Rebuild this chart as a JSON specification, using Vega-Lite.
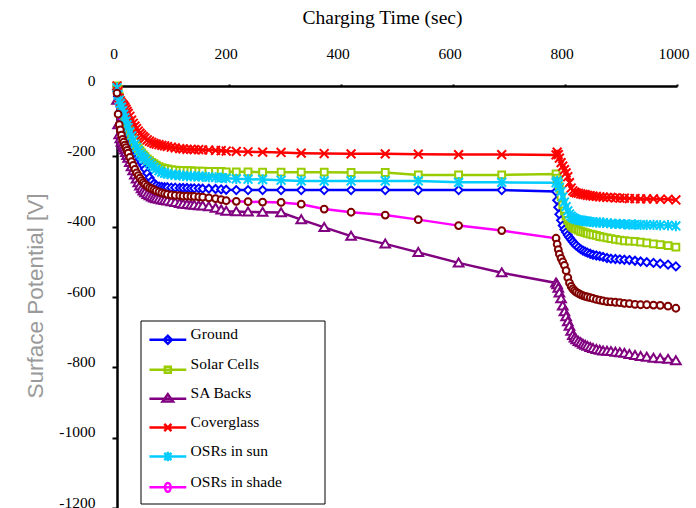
{
  "$schema": "https://vega.github.io/schema/vega-lite/v6.json",
  "width": 560,
  "height": 422,
  "autosize": {"type": "none"},
  "padding": {"left": 117, "top": 86, "right": 19, "bottom": 0},
  "background": "white",
  "config": {"view": {"stroke": null}, "font": "Liberation Serif"},
  "data": {"values": [
    {"t":0,"Ground":-10,"Solar Cells":0,"SA Backs":-40,"Coverglass":0,"OSRs in sun":-5,"OSRs in shade":-20},
    {"t":2,"Ground":-30,"Solar Cells":-10,"SA Backs":-110,"Coverglass":-15,"OSRs in sun":-25,"OSRs in shade":-80},
    {"t":4,"Ground":-45,"Solar Cells":-30,"SA Backs":-138,"Coverglass":-35,"OSRs in sun":-40,"OSRs in shade":-110},
    {"t":6,"Ground":-57,"Solar Cells":-45,"SA Backs":-150,"Coverglass":-42,"OSRs in sun":-50,"OSRs in shade":-125},
    {"t":8,"Ground":-68,"Solar Cells":-55,"SA Backs":-160,"Coverglass":-48,"OSRs in sun":-60,"OSRs in shade":-140},
    {"t":10,"Ground":-79,"Solar Cells":-65,"SA Backs":-168,"Coverglass":-52,"OSRs in sun":-70,"OSRs in shade":-152},
    {"t":12,"Ground":-90,"Solar Cells":-75,"SA Backs":-175,"Coverglass":-56,"OSRs in sun":-80,"OSRs in shade":-160},
    {"t":14,"Ground":-100,"Solar Cells":-85,"SA Backs":-182,"Coverglass":-60,"OSRs in sun":-90,"OSRs in shade":-168},
    {"t":16,"Ground":-110,"Solar Cells":-95,"SA Backs":-189,"Coverglass":-66,"OSRs in sun":-100,"OSRs in shade":-175},
    {"t":18,"Ground":-120,"Solar Cells":-104,"SA Backs":-197,"Coverglass":-72,"OSRs in sun":-110,"OSRs in shade":-183},
    {"t":20,"Ground":-129,"Solar Cells":-113,"SA Backs":-205,"Coverglass":-78,"OSRs in sun":-118,"OSRs in shade":-191},
    {"t":23,"Ground":-142,"Solar Cells":-126,"SA Backs":-217,"Coverglass":-86,"OSRs in sun":-130,"OSRs in shade":-203},
    {"t":26,"Ground":-155,"Solar Cells":-138,"SA Backs":-229,"Coverglass":-97,"OSRs in sun":-142,"OSRs in shade":-215},
    {"t":29,"Ground":-167,"Solar Cells":-150,"SA Backs":-241,"Coverglass":-106,"OSRs in sun":-154,"OSRs in shade":-226},
    {"t":32,"Ground":-178,"Solar Cells":-160,"SA Backs":-253,"Coverglass":-114,"OSRs in sun":-165,"OSRs in shade":-237},
    {"t":35,"Ground":-189,"Solar Cells":-170,"SA Backs":-264,"Coverglass":-121,"OSRs in sun":-175,"OSRs in shade":-247},
    {"t":38,"Ground":-199,"Solar Cells":-177,"SA Backs":-275,"Coverglass":-128,"OSRs in sun":-184,"OSRs in shade":-255},
    {"t":41,"Ground":-209,"Solar Cells":-184,"SA Backs":-284,"Coverglass":-134,"OSRs in sun":-192,"OSRs in shade":-262},
    {"t":44,"Ground":-218,"Solar Cells":-190,"SA Backs":-292,"Coverglass":-139,"OSRs in sun":-198,"OSRs in shade":-269},
    {"t":47,"Ground":-227,"Solar Cells":-196,"SA Backs":-298,"Coverglass":-144,"OSRs in sun":-203,"OSRs in shade":-275},
    {"t":50,"Ground":-236,"Solar Cells":-201,"SA Backs":-303,"Coverglass":-148,"OSRs in sun":-208,"OSRs in shade":-280},
    {"t":54,"Ground":-248,"Solar Cells":-207,"SA Backs":-308,"Coverglass":-153,"OSRs in sun":-214,"OSRs in shade":-285},
    {"t":58,"Ground":-260,"Solar Cells":-212,"SA Backs":-312,"Coverglass":-157,"OSRs in sun":-220,"OSRs in shade":-289},
    {"t":62,"Ground":-270,"Solar Cells":-217,"SA Backs":-315,"Coverglass":-160,"OSRs in sun":-226,"OSRs in shade":-292},
    {"t":66,"Ground":-278,"Solar Cells":-221,"SA Backs":-318,"Coverglass":-163,"OSRs in sun":-231,"OSRs in shade":-295},
    {"t":70,"Ground":-283,"Solar Cells":-225,"SA Backs":-320,"Coverglass":-165,"OSRs in sun":-236,"OSRs in shade":-298},
    {"t":75,"Ground":-286,"Solar Cells":-229,"SA Backs":-322,"Coverglass":-167,"OSRs in sun":-241,"OSRs in shade":-301},
    {"t":80,"Ground":-287,"Solar Cells":-232,"SA Backs":-324,"Coverglass":-169,"OSRs in sun":-245,"OSRs in shade":-304},
    {"t":85,"Ground":-288,"Solar Cells":-234,"SA Backs":-325,"Coverglass":-170,"OSRs in sun":-248,"OSRs in shade":-306},
    {"t":90,"Ground":-288,"Solar Cells":-236,"SA Backs":-327,"Coverglass":-172,"OSRs in sun":-250,"OSRs in shade":-308},
    {"t":97,"Ground":-289,"Solar Cells":-238,"SA Backs":-329,"Coverglass":-174,"OSRs in sun":-252,"OSRs in shade":-310},
    {"t":104,"Ground":-289,"Solar Cells":-239,"SA Backs":-331,"Coverglass":-176,"OSRs in sun":-253,"OSRs in shade":-311},
    {"t":112,"Ground":-290,"Solar Cells":-240,"SA Backs":-334,"Coverglass":-178,"OSRs in sun":-254,"OSRs in shade":-312},
    {"t":118,"Ground":-290,"Solar Cells":-240,"SA Backs":-336,"Coverglass":-179,"OSRs in sun":-255,"OSRs in shade":-313},
    {"t":125,"Ground":-290,"Solar Cells":-241,"SA Backs":-337,"Coverglass":-180,"OSRs in sun":-256,"OSRs in shade":-313},
    {"t":132,"Ground":-291,"Solar Cells":-241,"SA Backs":-338,"Coverglass":-180,"OSRs in sun":-256,"OSRs in shade":-314},
    {"t":138,"Ground":-291,"Solar Cells":-242,"SA Backs":-339,"Coverglass":-181,"OSRs in sun":-257,"OSRs in shade":-314},
    {"t":146,"Ground":-291,"Solar Cells":-242,"SA Backs":-340,"Coverglass":-181,"OSRs in sun":-257,"OSRs in shade":-315},
    {"t":153,"Ground":-292,"Solar Cells":-242,"SA Backs":-341,"Coverglass":-182,"OSRs in sun":-258,"OSRs in shade":-316},
    {"t":164,"Ground":-292,"Solar Cells":-243,"SA Backs":-343,"Coverglass":-182,"OSRs in sun":-259,"OSRs in shade":-318},
    {"t":176,"Ground":-293,"Solar Cells":-243,"SA Backs":-347,"Coverglass":-183,"OSRs in sun":-260,"OSRs in shade":-320},
    {"t":186,"Ground":-294,"Solar Cells":-243,"SA Backs":-352,"Coverglass":-184,"OSRs in sun":-261,"OSRs in shade":-323},
    {"t":195,"Ground":-295,"Solar Cells":-244,"SA Backs":-356,"Coverglass":-185,"OSRs in sun":-262,"OSRs in shade":-326},
    {"t":213,"Ground":-296,"Solar Cells":-244,"SA Backs":-357,"Coverglass":-186,"OSRs in sun":-264,"OSRs in shade":-328},
    {"t":234,"Ground":-296,"Solar Cells":-244,"SA Backs":-358,"Coverglass":-187,"OSRs in sun":-265,"OSRs in shade":-329},
    {"t":260,"Ground":-296,"Solar Cells":-245,"SA Backs":-359,"Coverglass":-188,"OSRs in sun":-266,"OSRs in shade":-330},
    {"t":293,"Ground":-296,"Solar Cells":-245,"SA Backs":-360,"Coverglass":-189,"OSRs in sun":-268,"OSRs in shade":-331},
    {"t":329,"Ground":-296,"Solar Cells":-245,"SA Backs":-380,"Coverglass":-191,"OSRs in sun":-270,"OSRs in shade":-336},
    {"t":370,"Ground":-296,"Solar Cells":-245,"SA Backs":-402,"Coverglass":-192,"OSRs in sun":-270,"OSRs in shade":-350},
    {"t":418,"Ground":-296,"Solar Cells":-246,"SA Backs":-427,"Coverglass":-193,"OSRs in sun":-270,"OSRs in shade":-359},
    {"t":479,"Ground":-296,"Solar Cells":-246,"SA Backs":-449,"Coverglass":-193,"OSRs in sun":-270,"OSRs in shade":-367},
    {"t":538,"Ground":-296,"Solar Cells":-253,"SA Backs":-473,"Coverglass":-194,"OSRs in sun":-270,"OSRs in shade":-380},
    {"t":610,"Ground":-296,"Solar Cells":-253,"SA Backs":-503,"Coverglass":-195,"OSRs in sun":-274,"OSRs in shade":-397},
    {"t":687,"Ground":-296,"Solar Cells":-253,"SA Backs":-531,"Coverglass":-195,"OSRs in sun":-274,"OSRs in shade":-411},
    {"t":784,"Ground":-300,"Solar Cells":-250,"SA Backs":-560,"Coverglass":-196,"OSRs in sun":-275,"OSRs in shade":-433},
    {"t":786,"Ground":-325,"Solar Cells":-262,"SA Backs":-565,"Coverglass":-188,"OSRs in sun":-270,"OSRs in shade":-450},
    {"t":788,"Ground":-345,"Solar Cells":-270,"SA Backs":-575,"Coverglass":-195,"OSRs in sun":-278,"OSRs in shade":-465},
    {"t":790,"Ground":-365,"Solar Cells":-290,"SA Backs":-588,"Coverglass":-205,"OSRs in sun":-288,"OSRs in shade":-478},
    {"t":793,"Ground":-382,"Solar Cells":-315,"SA Backs":-605,"Coverglass":-218,"OSRs in sun":-300,"OSRs in shade":-490},
    {"t":796,"Ground":-397,"Solar Cells":-338,"SA Backs":-625,"Coverglass":-228,"OSRs in sun":-315,"OSRs in shade":-500},
    {"t":799,"Ground":-408,"Solar Cells":-355,"SA Backs":-642,"Coverglass":-238,"OSRs in sun":-330,"OSRs in shade":-510},
    {"t":802,"Ground":-416,"Solar Cells":-370,"SA Backs":-656,"Coverglass":-247,"OSRs in sun":-343,"OSRs in shade":-525},
    {"t":805,"Ground":-424,"Solar Cells":-382,"SA Backs":-670,"Coverglass":-258,"OSRs in sun":-355,"OSRs in shade":-545},
    {"t":808,"Ground":-431,"Solar Cells":-392,"SA Backs":-683,"Coverglass":-275,"OSRs in sun":-364,"OSRs in shade":-560},
    {"t":811,"Ground":-437,"Solar Cells":-398,"SA Backs":-697,"Coverglass":-290,"OSRs in sun":-370,"OSRs in shade":-570},
    {"t":814,"Ground":-443,"Solar Cells":-402,"SA Backs":-709,"Coverglass":-298,"OSRs in sun":-374,"OSRs in shade":-577},
    {"t":817,"Ground":-449,"Solar Cells":-405,"SA Backs":-716,"Coverglass":-302,"OSRs in sun":-377,"OSRs in shade":-582},
    {"t":820,"Ground":-454,"Solar Cells":-407,"SA Backs":-721,"Coverglass":-304,"OSRs in sun":-379,"OSRs in shade":-586},
    {"t":824,"Ground":-459,"Solar Cells":-410,"SA Backs":-726,"Coverglass":-305,"OSRs in sun":-381,"OSRs in shade":-590},
    {"t":828,"Ground":-464,"Solar Cells":-413,"SA Backs":-730,"Coverglass":-307,"OSRs in sun":-382,"OSRs in shade":-593},
    {"t":832,"Ground":-468,"Solar Cells":-415,"SA Backs":-734,"Coverglass":-308,"OSRs in sun":-383,"OSRs in shade":-596},
    {"t":836,"Ground":-471,"Solar Cells":-417,"SA Backs":-737,"Coverglass":-309,"OSRs in sun":-384,"OSRs in shade":-598},
    {"t":840,"Ground":-474,"Solar Cells":-419,"SA Backs":-740,"Coverglass":-311,"OSRs in sun":-385,"OSRs in shade":-600},
    {"t":845,"Ground":-477,"Solar Cells":-421,"SA Backs":-743,"Coverglass":-312,"OSRs in sun":-386,"OSRs in shade":-602},
    {"t":850,"Ground":-480,"Solar Cells":-423,"SA Backs":-746,"Coverglass":-313,"OSRs in sun":-387,"OSRs in shade":-604},
    {"t":856,"Ground":-482,"Solar Cells":-425,"SA Backs":-749,"Coverglass":-314,"OSRs in sun":-388,"OSRs in shade":-607},
    {"t":862,"Ground":-484,"Solar Cells":-428,"SA Backs":-751,"Coverglass":-315,"OSRs in sun":-388,"OSRs in shade":-609},
    {"t":868,"Ground":-486,"Solar Cells":-430,"SA Backs":-753,"Coverglass":-316,"OSRs in sun":-389,"OSRs in shade":-611},
    {"t":875,"Ground":-489,"Solar Cells":-432,"SA Backs":-754,"Coverglass":-317,"OSRs in sun":-390,"OSRs in shade":-613},
    {"t":882,"Ground":-491,"Solar Cells":-434,"SA Backs":-755,"Coverglass":-317,"OSRs in sun":-391,"OSRs in shade":-614},
    {"t":890,"Ground":-492,"Solar Cells":-436,"SA Backs":-757,"Coverglass":-318,"OSRs in sun":-392,"OSRs in shade":-615},
    {"t":898,"Ground":-493,"Solar Cells":-438,"SA Backs":-758,"Coverglass":-319,"OSRs in sun":-392,"OSRs in shade":-616},
    {"t":906,"Ground":-494,"Solar Cells":-440,"SA Backs":-760,"Coverglass":-319,"OSRs in sun":-393,"OSRs in shade":-618},
    {"t":915,"Ground":-495,"Solar Cells":-441,"SA Backs":-763,"Coverglass":-320,"OSRs in sun":-394,"OSRs in shade":-619},
    {"t":925,"Ground":-497,"Solar Cells":-442,"SA Backs":-766,"Coverglass":-320,"OSRs in sun":-394,"OSRs in shade":-621},
    {"t":935,"Ground":-499,"Solar Cells":-444,"SA Backs":-769,"Coverglass":-321,"OSRs in sun":-395,"OSRs in shade":-622},
    {"t":946,"Ground":-501,"Solar Cells":-446,"SA Backs":-771,"Coverglass":-321,"OSRs in sun":-395,"OSRs in shade":-622},
    {"t":958,"Ground":-503,"Solar Cells":-449,"SA Backs":-774,"Coverglass":-321,"OSRs in sun":-395,"OSRs in shade":-623},
    {"t":970,"Ground":-505,"Solar Cells":-451,"SA Backs":-775,"Coverglass":-322,"OSRs in sun":-396,"OSRs in shade":-624},
    {"t":984,"Ground":-508,"Solar Cells":-454,"SA Backs":-777,"Coverglass":-322,"OSRs in sun":-396,"OSRs in shade":-626},
    {"t":998,"Ground":-513,"Solar Cells":-458,"SA Backs":-781,"Coverglass":-324,"OSRs in sun":-398,"OSRs in shade":-632}
  ]},
  "transform": [{"fold": ["Ground", "Solar Cells", "SA Backs", "Coverglass", "OSRs in sun", "OSRs in shade"], "as": ["series", "v"]}],
  "encoding": {
    "x": {"field": "t", "type": "quantitative", "scale": {"domain": [0, 1000], "nice": false},
      "axis": {"orient": "top", "values": [0, 200, 400, 600, 800, 1000], "title": "Charging Time (sec)",
        "labelExpr": "'' + datum.value",
        "titleFont": "Liberation Serif", "titleFontSize": 19.5, "titleFontWeight": "normal", "titleColor": "black",
        "titleX": 265, "titleY": -63, "titleBaseline": "alphabetic", "titleAlign": "center",
        "labelFont": "Liberation Serif", "labelFontSize": 15.5, "labelColor": "black", "labelBaseline": "alphabetic",
        "labelPadding": 25.5, "labelOffset": -3.5, "labelFlush": false, "labelOverlap": false,
        "tickSize": 2, "tickWidth": 2, "tickColor": "black", "domainColor": "black", "domainWidth": 2.5, "grid": false,
        "encode": {"ticks": {"update": {"y": {"value": 8}}}}}},
    "y": {"field": "v", "type": "quantitative", "scale": {"domain": [-1200, 0], "nice": false},
      "axis": {"orient": "left", "values": [0, -200, -400, -600, -800, -1000, -1200], "title": "Surface Potential [V]",
        "labelExpr": "'' + datum.value",
        "titleFont": "Liberation Sans", "titleFontSize": 22.5, "titleFontWeight": "normal", "titleColor": "#9a9a9a",
        "titleX": -82, "titleY": 209.5, "titleAngle": 270, "titleBaseline": "middle", "titleAlign": "center",
        "labelFont": "Liberation Serif", "labelFontSize": 15.5, "labelColor": "black",
        "labelPadding": 17, "labelOffset": -6, "labelFlush": false, "labelOverlap": false,
        "tickSize": 5, "tickWidth": 2, "tickColor": "black", "domainColor": "black", "domainWidth": 2.5, "grid": false,
        "encode": {"ticks": {"update": {"x": {"value": 6}}}}}}
  },
  "layer": [
    {
      "mark": {"type": "line", "strokeWidth": 2.5},
      "encoding": {
        "stroke": {"field": "series", "type": "nominal",
          "scale": {"range": ["#ff0000", "#0000ff", "#ff00ff", "#00ccff", "#800080", "#99cc00"]},
          "legend": null}
      }
    },
    {
      "transform": [{"filter": "datum.series === 'Ground'"}],
      "mark": {"type": "point", "shape": "M0,-1L1,0L0,1L-1,0Z", "size": 64, "stroke": "#0000ff", "fill": "white", "strokeWidth": 2, "opacity": 1}
    },
    {
      "transform": [{"filter": "datum.series === 'Solar Cells'"}],
      "mark": {"type": "point", "shape": "M-0.85,-0.85L0.85,-0.85L0.85,0.85L-0.85,0.85Z", "size": 64, "stroke": "#99cc00", "fill": "white", "strokeWidth": 2, "opacity": 1}
    },
    {
      "transform": [{"filter": "datum.series === 'SA Backs'"}],
      "mark": {"type": "point", "shape": "M0,-1.1L1.2,0.9L-1.2,0.9Z", "size": 64, "stroke": "#800080", "fill": "white", "strokeWidth": 2, "opacity": 1}
    },
    {
      "transform": [{"filter": "datum.series === 'Coverglass'"}],
      "mark": {"type": "point", "shape": "M-1.1,-1.1L1.1,1.1M-1.1,1.1L1.1,-1.1", "size": 64, "stroke": "#ff0000", "fill": "white", "strokeWidth": 2, "opacity": 1}
    },
    {
      "transform": [{"filter": "datum.series === 'OSRs in sun'"}],
      "mark": {"type": "point", "shape": "M-1.1,-1.1L1.1,1.1M-1.1,1.1L1.1,-1.1M0,-1.3L0,1.3", "size": 64, "stroke": "#00ccff", "fill": "white", "strokeWidth": 2, "opacity": 1}
    },
    {
      "transform": [{"filter": "datum.series === 'OSRs in shade'"}],
      "mark": {"type": "point", "shape": "M-0.85,0A0.85,0.85 0 1,0 0.85,0A0.85,0.85 0 1,0 -0.85,0Z", "size": 64, "stroke": "#800000", "fill": "white", "strokeWidth": 2, "opacity": 1}
    },
    {
      "mark": {"type": "point", "size": 0, "filled": false},
      "encoding": {
        "color": {"field": "series", "type": "nominal",
          "scale": {"domain": ["Ground", "Solar Cells", "SA Backs", "Coverglass", "OSRs in sun", "OSRs in shade"],
                    "range": ["#0000ff", "#99cc00", "#800080", "#ff0000", "#00ccff", "#ff00ff"]},
          "legend": {"orient": "none", "legendX": 23.5, "legendY": 234.5, "title": null,
            "symbolSize": 64, "symbolStrokeWidth": 2.5, "symbolFillColor": "white", "symbolOpacity": 1,
            "labelFont": "Liberation Serif", "labelFontSize": 15.5, "labelColor": "black",
            "labelOffset": 15, "symbolOffset": 13.6, "padding": 6, "rowPadding": 6.9,
            "strokeColor": "black",
            "labelExpr": "datum.label + '\u2800\u2800\u2800'",
            "encode": {"legend": {"update": {"strokeWidth": {"value": 2}}}, "symbols": {"update": {"size": {"value": 64}}}}}},
        "shape": {"field": "series", "type": "nominal",
          "scale": {"domain": ["Ground", "Solar Cells", "SA Backs", "Coverglass", "OSRs in sun", "OSRs in shade"],
            "range": [
            "M-4.6,1.4L4.6,1.4M0,0.4L1,1.4L0,2.4L-1,1.4Z",
            "M-4.6,1.4L4.6,1.4M-0.75,0.65L0.75,0.65L0.75,2.15L-0.75,2.15Z",
            "M-4.6,1.4L4.6,1.4M0,0.3L1.3,2.1L-1.3,2.1Z",
            "M-4.6,1.4L4.6,1.4M-0.9,0.5L0.9,2.3M-0.9,2.3L0.9,0.5",
            "M-4.6,1.4L4.6,1.4M-0.9,0.5L0.9,2.3M-0.9,2.3L0.9,0.5M0,0.2L0,2.6",
            "M-4.6,1.4L4.6,1.4M-0.7,1.4A0.7,1.1 0 1,0 0.7,1.4A0.7,1.1 0 1,0 -0.7,1.4Z"]},
          "legend": {"orient": "none", "legendX": 23.5, "legendY": 234.5, "title": null,
            "symbolSize": 64, "symbolStrokeWidth": 2.5, "symbolFillColor": "white", "symbolOpacity": 1,
            "labelFont": "Liberation Serif", "labelFontSize": 15.5, "labelColor": "black",
            "labelOffset": 15, "symbolOffset": 13.6, "padding": 6, "rowPadding": 6.9,
            "strokeColor": "black",
            "labelExpr": "datum.label + '\u2800\u2800\u2800'",
            "encode": {"legend": {"update": {"strokeWidth": {"value": 2}}}, "symbols": {"update": {"size": {"value": 64}}}}}}
      }
    },
    {
      "data": {"values": [{}]},
      "mark": {"type": "rule", "color": "#8c8c8c", "strokeWidth": 2.5},
      "encoding": {"x": {"datum": 1000}, "y": {"datum": -25}, "y2": {"datum": -1200}}
    }
  ]
}
